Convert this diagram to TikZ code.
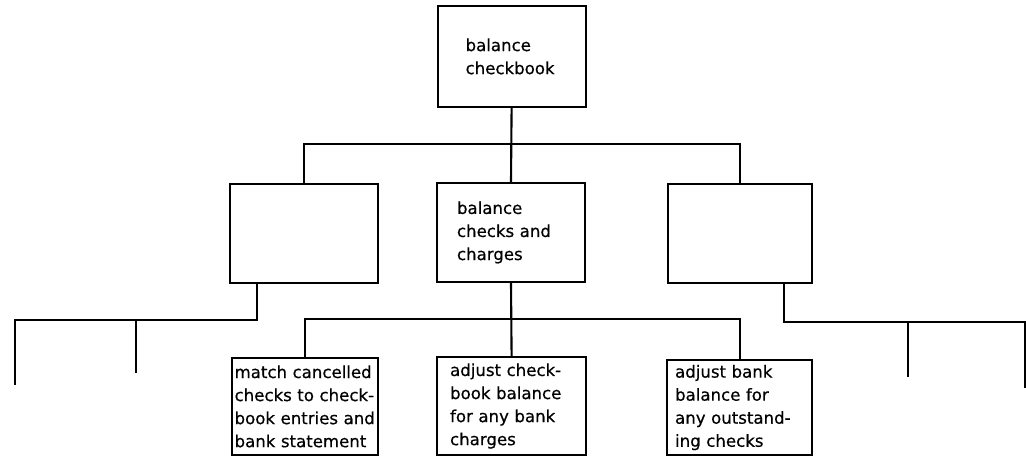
\documentclass[tikz,border=0pt]{standalone}
\usepackage{fontspec}
\setmainfont{DejaVu Sans}[UprightFeatures={FakeBold=0.5}]
\tikzset{
    box/.style={draw, line width=1.5pt, align=left, inner ysep=0pt, font=\fontsize{11.8}{16.4}\selectfont},
    link/.style={line width=1.5pt}
}
\begin{document}
\begin{tikzpicture}
    \useasboundingbox (0, 0) rectangle (25.65, -11.425);
    \node[box, text width=2.3cm, inner xsep=0.7cm, minimum height=2.525cm] (top) at (12.79, -1.41) {balance\\checkbook};
    \node[box, minimum width=3.7cm, minimum height=2.475cm] (midl) at (7.6, -5.84) {};
    \node[box, text width=2.7cm, inner xsep=0.5cm, minimum height=2.475cm] (midm) at (12.775, -5.81) {balance\\checks and\\charges};
    \node[box, minimum width=3.6cm, minimum height=2.475cm] (midr) at (18.5, -5.84) {};
    \node[box, text width=3.52cm, inner xsep=0.065cm, minimum height=2.425cm] (botl) at (7.625, -10.16) {match cancelled\\checks to check-\\book entries and\\bank statement};
    \node[box, text width=3.075cm, inner xsep=0.325cm, minimum height=2.45cm] (botm) at (12.79, -10.15) {adjust check-\\book balance\\for any bank\\charges};
    \node[box, text width=3.225cm, inner xsep=0.2cm, minimum height=2.375cm] (botr) at (18.49, -10.19) {adjust bank\\balance for\\any outstand-\\ing checks};
    \coordinate (bar1) at (0, -3.6);
    \coordinate (bar2) at (0, -7.975);
    \coordinate (ldrop) at (6.425, -8.0);
    \coordinate (lend) at (0.375, -8.0);
    \coordinate (lleg1) at (0.375, -9.625);
    \coordinate (lleg2) at (3.4, -9.325);
    \coordinate (rdrop) at (19.6, -8.05);
    \coordinate (rend) at (25.62, -8.05);
    \coordinate (rleg1) at (22.7, -9.425);
    \coordinate (rleg2) at (25.62, -9.7);
    \draw[link] (top.south) to (midm.north);
    \draw[link] (midl.north) to (midl.north |- bar1) to (midr.north |- bar1) to (midr.north);
    \draw[link] (midm.south) to (botm.north);
    \draw[link] (botl.north) to (botl.north |- bar2) to (botr.north |- bar2) to (botr.north);
    \draw[link] (midl.south -| ldrop) to (ldrop) to (lend) to (lleg1);
    \draw[link] (lleg2 |- lend) to (lleg2);
    \draw[link] (midr.south -| rdrop) to (rdrop) to (rend) to (rleg2);
    \draw[link] (rleg1 |- rend) to (rleg1);
\end{tikzpicture}
\end{document}
